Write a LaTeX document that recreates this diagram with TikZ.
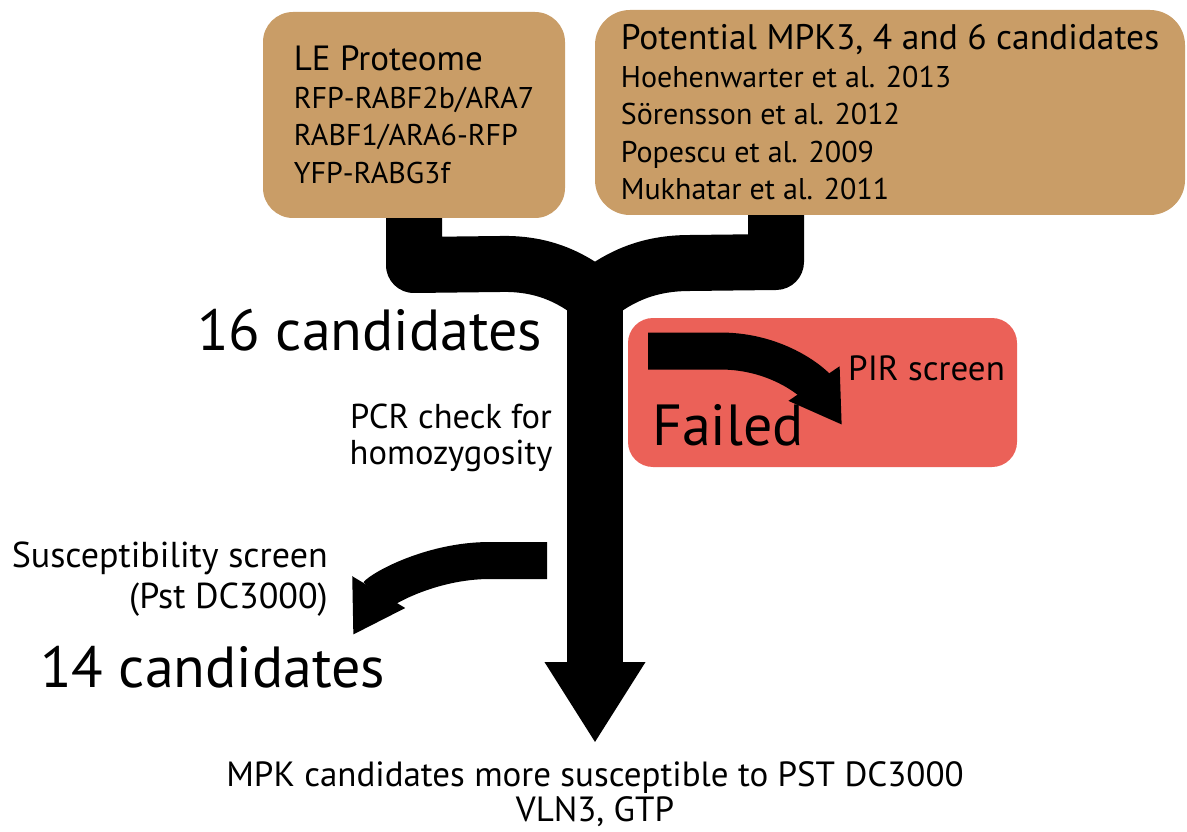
\documentclass[tikz,border=0pt]{standalone}
\usepackage{fontspec}
\setmainfont{PT Sans}
\usetikzlibrary{arrows.meta, positioning}
\definecolor{tanbox}{RGB}{201,157,103}
\definecolor{failred}{RGB}{235,97,88}

\begin{document}
\begin{tikzpicture}[
  x=1pt, y=-1pt,
  srcbox/.style={rectangle, rounded corners=30pt, fill=tanbox, align=left,
    inner sep=0pt, font=\fontsize{30}{37.5}\selectfont},
  flow/.style={line width=56pt, line join=round},
  bendarr/.style={line width=37pt, -{Triangle[width=58pt,length=50pt]}},
  bigtxt/.style={inner sep=0pt, font=\fontsize{58}{62}\selectfont},
  note/.style={inner sep=0pt, font=\fontsize{34.5}{36}\selectfont},
]
\useasboundingbox (0,0) rectangle (1187,832);

%% Source boxes
\node[srcbox, minimum width=302pt, minimum height=206pt] (le) at (414,115)
  {{\fontsize{35}{37.5}\selectfont LE Proteome}\\RFP-RABF2b/ARA7\\RABF1/ARA6-RFP\\YFP-RABG3f};
\node[srcbox, minimum width=590pt, minimum height=205pt, rounded corners=35pt] (pot) at (890,112.5)
  {{\fontsize{35.5}{37.5}\selectfont Potential MPK3, 4 and 6 candidates}\\Hoehenwarter et al. 2013\\S\"orensson et al. 2012\\Popescu et al. 2009\\Mukhatar et al. 2011};

%% Merging flow
\coordinate (joinL) at (600,300);
\coordinate (joinR) at (590,300);
\coordinate (tip) at (595,743);
\draw[flow] (le.south) -- (414,265) -- (500,264) .. controls (540,263) and (570,275) .. (joinL);
\draw[flow] (776,0 |- pot.south) -- (776,262) -- (690,263) .. controls (650,263) and (620,275) .. (joinR);
\draw[flow, -{Triangle[width=95pt,length=81pt]}] (595,290) -- (tip);

%% Failed screen
\node[fill=failred, rounded corners=25pt, minimum width=389pt, minimum height=149pt] (fail) at (822.5,392.5) {};
\coordinate (pirA) at (648,351);
\coordinate (pirB) at (842,425);
\draw[bendarr] (pirA) -- (720,351) .. controls (780,351) and (815,385) .. (pirB);
\node[inner sep=0pt, anchor=base west, font=\fontsize{58}{62}\selectfont] (failed) at (652,445) {Failed};
\node[note, anchor=base west, font=\fontsize{35}{36}\selectfont] (pir) at (848,380) {PIR screen};

%% Susceptibility screen
\coordinate (susA) at (547,560.5);
\coordinate (susB) at (353,635);
\draw[bendarr] (susA) -- (490,560.5) .. controls (430,560.5) and (380,590) .. (susB);

%% Labels
\node[bigtxt, anchor=base west] (c16) at (197,350) {16 candidates};
\node[note, align=center, anchor=north] (pcr) at (451,404) {PCR check for\\homozygosity};
\node[note, align=right, anchor=north east, font=\fontsize{36}{41}\selectfont] (sus) at (328,542)
  {Susceptibility screen\\(Pst DC3000)};
\node[bigtxt, anchor=base west] (c14) at (40,687) {14 candidates};
\node[note, align=center, anchor=north, font=\fontsize{35}{35}\selectfont] (res) at (595,761)
  {MPK candidates more susceptible to PST DC3000\\VLN3, GTP};
\end{tikzpicture}
\end{document}
